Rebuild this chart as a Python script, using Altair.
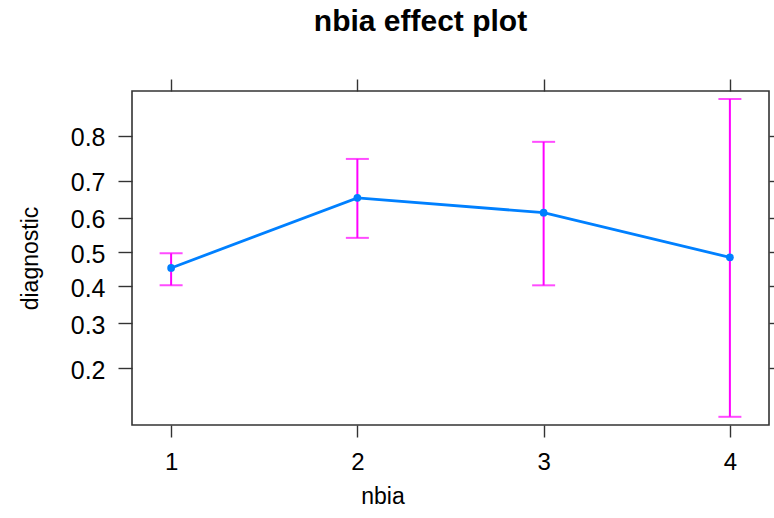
import math
import altair as alt
import pandas as pd

# ---- data ----
nbia = [1, 2, 3, 4]
fit = [0.4525, 0.656, 0.615, 0.484]
lower = [0.402, 0.542, 0.402, 0.123]
upper = [0.496, 0.752, 0.788, 0.861]
y_ticks = [0.2, 0.3, 0.4, 0.5, 0.6, 0.7, 0.8]

df = pd.DataFrame({"nbia": nbia, "fit": fit, "lower": lower, "upper": upper})

# logit positions of the probability tick labels (the y scale is a logit scale)
y_tick_pos = [math.log(p / (1 - p)) for p in y_ticks]

FONT = "Liberation Sans"
AX_COL = "#333333"
BLUE = "#0080ff"
MAG = "#ff00ff"

x_scale = alt.Scale(domain=[0.79, 4.21], nice=False, zero=False)
y_scale = alt.Scale(domain=[-2.062, 1.919], nice=False, zero=False)

base = alt.Chart(df).transform_calculate(
    lf="log(datum.fit/(1-datum.fit))",
    ll="log(datum.lower/(1-datum.lower))",
    lu="log(datum.upper/(1-datum.upper))",
)

x_main = alt.X(
    "nbia:Q", scale=x_scale,
    axis=alt.Axis(
        orient="bottom", values=nbia, format="d", tickSize=12, tickColor=AX_COL,
        tickWidth=1.4, domain=False, grid=False, labelFont=FONT, labelFontSize=24,
        labelColor="black", labelPadding=13, title="nbia", titleFont=FONT,
        titleFontSize=23, titleFontWeight="normal", titleColor="black",
        titleX=250.5, titleY=78, titleBaseline="alphabetic", titleAlign="center",
    ),
)
y_main = alt.Y(
    "lf:Q", scale=y_scale,
    axis=alt.Axis(
        orient="left", values=y_tick_pos, tickSize=14, tickColor=AX_COL,
        tickWidth=1.4, domain=False, grid=False, labelFont=FONT, labelFontSize=25,
        labelColor="black", labelPadding=13, labelOffset=2,
        labelExpr="format(1/(1+exp(-datum.value)), '.1f')",
        title="diagnostic", titleFont=FONT, titleFontSize=23, titleFontWeight="normal",
        titleColor="black", titleX=-95, titleY=167, titleBaseline="alphabetic",
        titleAlign="center", titleAngle=270,
    ),
)

x_none = alt.X("nbia:Q", scale=x_scale, axis=None)

bars = base.mark_rule(color=MAG, strokeWidth=2).encode(
    x=x_none, y=alt.Y("ll:Q", scale=y_scale, axis=None), y2="lu:Q"
)
cap_lo = base.mark_tick(color=MAG, orient="horizontal", size=23, thickness=2).encode(
    x=x_none, y=alt.Y("ll:Q", scale=y_scale, axis=None)
)
cap_hi = base.mark_tick(color=MAG, orient="horizontal", size=23, thickness=2).encode(
    x=x_none, y=alt.Y("lu:Q", scale=y_scale, axis=None)
)
line = base.mark_line(color=BLUE, strokeWidth=2.8).encode(x=x_main, y=y_main)
pts = base.mark_circle(color=BLUE, size=60, opacity=1).encode(
    x=x_none, y=alt.Y("lf:Q", scale=y_scale, axis=None)
)
# invisible layer that carries the top and right tick-only axes
frame = base.mark_point(opacity=0).encode(
    x=alt.X("nbia:Q", scale=x_scale, axis=alt.Axis(
        orient="top", values=nbia, labels=False, tickSize=12, tickColor=AX_COL,
        tickWidth=1.4, domain=False, grid=False, title=None)),
    y=alt.Y("lf:Q", scale=y_scale, axis=alt.Axis(
        orient="right", values=y_tick_pos, labels=False, tickSize=14, tickColor=AX_COL,
        tickWidth=1.4, domain=False, grid=False, title=None)),
)

chart = (
    alt.layer(bars, cap_lo, cap_hi, line, pts, frame)
    .resolve_axis(x="independent", y="independent")
    .properties(
        width=637, height=334,
        title=alt.Title("nbia effect plot", font=FONT, fontSize=30, fontWeight="bold",
                        color="black", anchor="middle", dx=-30, baseline="alphabetic",
                        offset=17),
        autosize=alt.AutoSizeParams(type="none"),
        padding={"left": 132, "top": 91, "right": 5, "bottom": 93},
        background="white",
    )
    .configure_view(stroke=AX_COL, strokeWidth=1.6)
)

chart.save("out.html", embed_options={"renderer": "svg", "actions": False})
